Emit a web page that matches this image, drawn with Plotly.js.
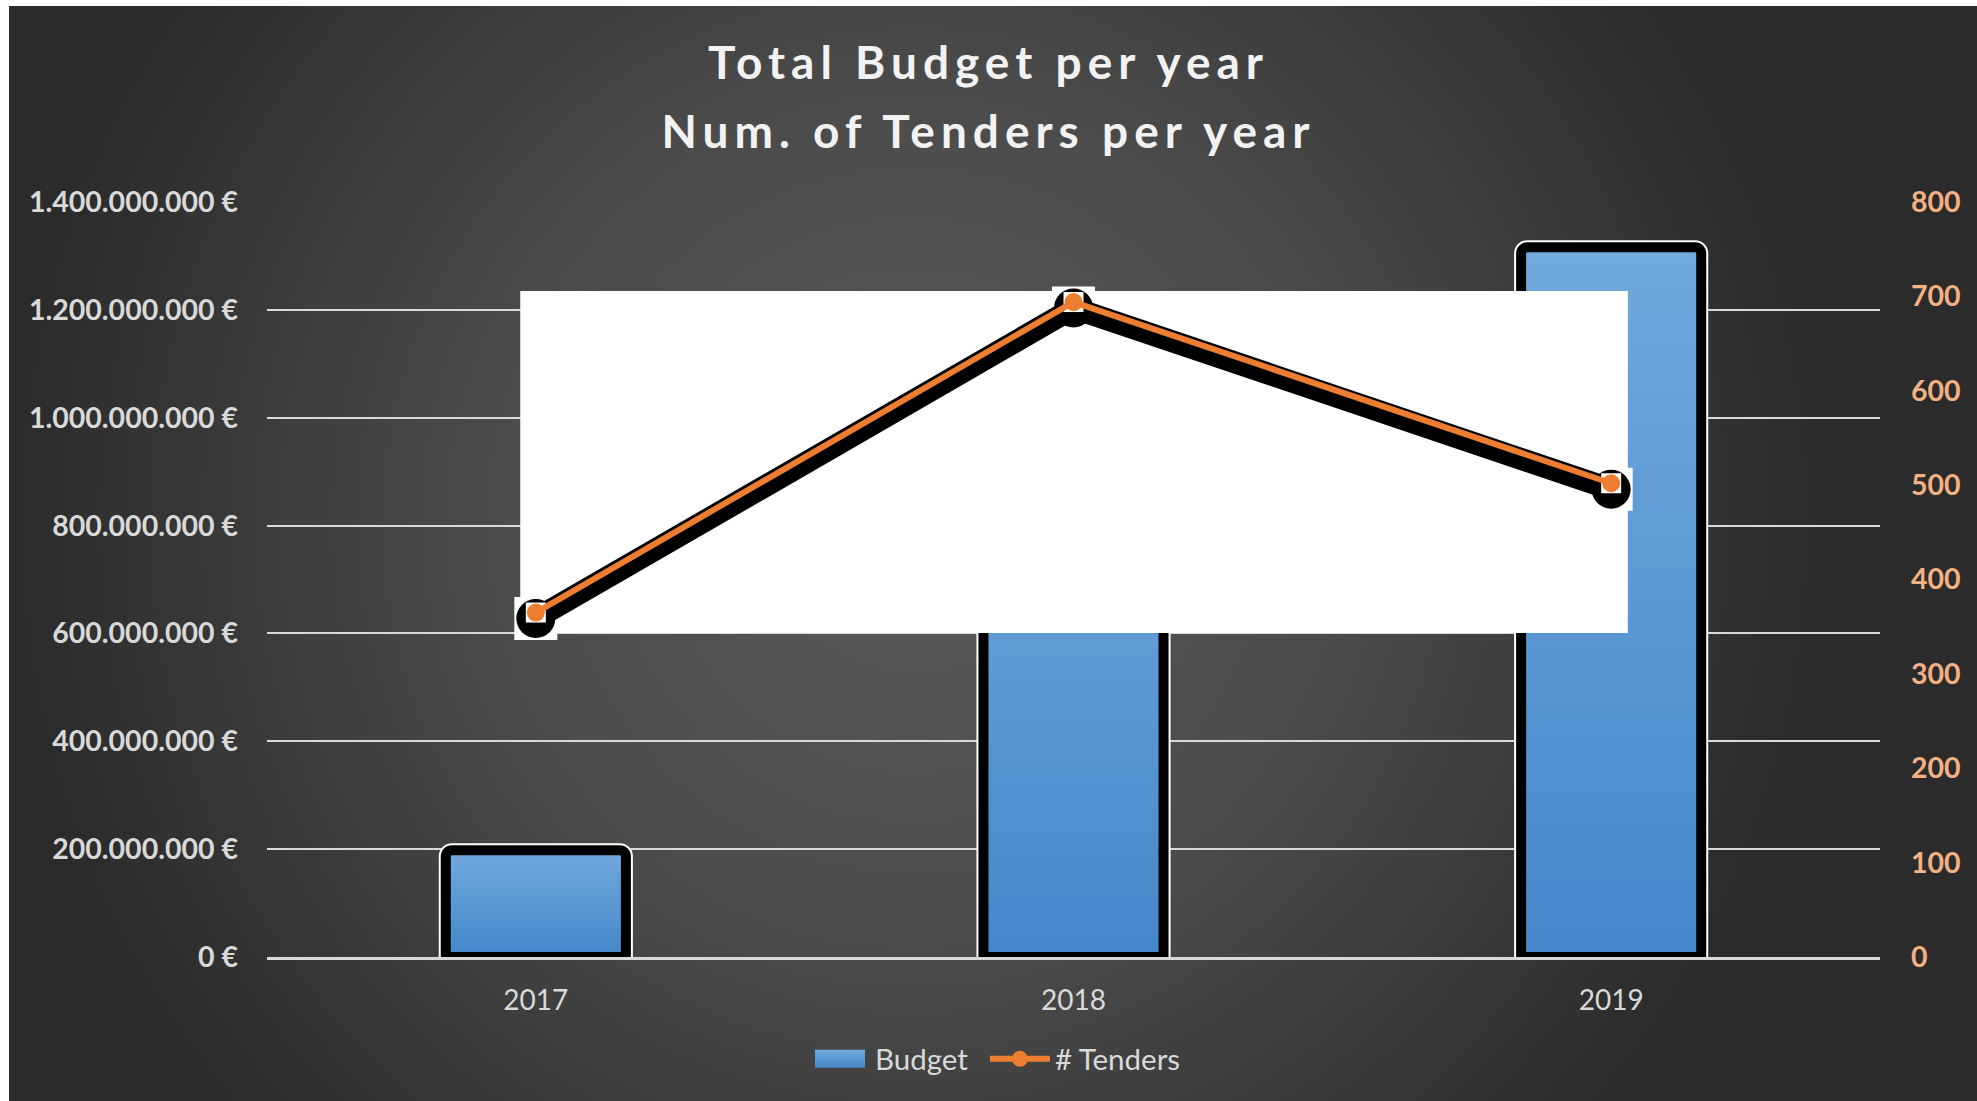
<!DOCTYPE html>
<html>
<head>
<meta charset="utf-8">
<script src="https://cdn.plot.ly/plotly-3.0.1.min.js"></script>
<style>
  html, body { margin:0; padding:0; background:#ffffff; }
  #bg { position:absolute; left:9px; top:6px; width:1968px; height:1095px;
        background: radial-gradient(circle at 46% 47%, #5a5a5a 0px, #4b4b4b 430px, #2b2b2b 900px); }
  #chart { position:absolute; left:0; top:0; width:1977px; height:1101px; }
  #chart .gtitle { letter-spacing: 6px; }
  #chart .barlayer .point path { fill: url(#barGrad) !important; }
  #chart .legend .traces .legendpoints path.legendbar,
  #chart .legend .traces .legendpoints path.legendundefined {
      stroke-width: 0 !important; fill: url(#barGrad) !important;
      d: path("M25,9H-25V-9H25Z"); }
</style>
</head>
<body>
<svg width="0" height="0" style="position:absolute">
  <defs>
    <linearGradient id="barGrad" x1="0" y1="0" x2="0" y2="1">
      <stop offset="0" stop-color="#72a9de"/>
      <stop offset="1" stop-color="#4487c9"/>
    </linearGradient>
  </defs>
</svg>
<div id="bg"></div>
<div id="chart"></div>
<script>
// ---- data ----
const years = [2017, 2018, 2019];
const yearLabels = ['2017', '2018', '2019'];
const budget = [198000000, 1000000000, 1316000000];
const tenders = [365, 694, 502];
const budgetTickStep = 200000000;
const tenderTickStep = 100;

// ---- decoration (white box pasted over the plot, in x-year / right-axis units) ----
const coverBoxX = [2016.971, 2019.031];
const coverBoxY = [343.3, 705.7];

const shadowShift = 6 * 800 / 755; // shadow drawn ~6px lower
const barW = 0.335;
const orange = '#ed7d31';

const traces = [
  { type:'bar', x:years, y:budget, width:barW, showlegend:false, hoverinfo:'skip',
    marker:{ color:'rgba(0,0,0,0)', cornerradius:6, line:{ color:'#ffffff', width:14 } } },
  { type:'bar', name:'Budget', x:years, y:budget, width:barW, legend:'legend',
    marker:{ color:'#5b9bd5', cornerradius:6, line:{ color:'#000000', width:10 } } },
  { type:'scatter', mode:'lines', yaxis:'y2', showlegend:false, hoverinfo:'skip',
    x:[coverBoxX[0], coverBoxX[1], coverBoxX[1], coverBoxX[0], coverBoxX[0]],
    y:[coverBoxY[0], coverBoxY[0], coverBoxY[1], coverBoxY[1], coverBoxY[0]],
    fill:'toself', fillcolor:'#ffffff', line:{ width:0, color:'#ffffff' } },
  { type:'scatter', mode:'markers', yaxis:'y3', x:years, y:tenders, showlegend:false, hoverinfo:'skip',
    marker:{ symbol:'square', size:43, color:'#ffffff', line:{ width:0 } } },
  { type:'scatter', mode:'lines+markers', yaxis:'y3', x:years, y:tenders, showlegend:false, hoverinfo:'skip',
    line:{ color:'#000000', width:22 }, marker:{ symbol:'circle', size:39, color:'#000000', line:{ width:0 } } },
  { type:'scatter', mode:'markers', yaxis:'y4', x:years, y:tenders, showlegend:false, hoverinfo:'skip',
    marker:{ symbol:'square', size:20, color:'#ffffff', line:{ width:0 } } },
  { type:'scatter', mode:'lines+markers', name:'# Tenders', yaxis:'y4', x:years, y:tenders, legend:'legend2',
    line:{ color:orange, width:6 }, marker:{ symbol:'circle', size:18, color:orange, line:{ width:0 } } }
];

const tickFont = { family:'Lato', size:28.5, color:'#d9d9d9', weight:700 };
const legendFont = { family:'Lato', size:29.5, color:'#d9d9d9' };

const layout = {
  width:1977, height:1101,
  margin:{ l:267, r:97, t:202, b:144, pad:0 },
  paper_bgcolor:'rgba(0,0,0,0)', plot_bgcolor:'rgba(0,0,0,0)',
  separators:',.',
  barmode:'overlay',
  hovermode:false,
  title:{ text:'<span style="font-size:46px">Total Budget per year</span><br><span style="font-size:46px">Num. of Tenders per year</span>',
          font:{ family:'Lato', size:53, color:'#f2f2f2', weight:700 },
          xref:'container', x:0.5, xanchor:'center',
          yref:'container', y:0.9282, yanchor:'top' },
  xaxis:{ type:'linear', range:[2016.5, 2019.5], tickvals:years, ticktext:yearLabels,
          showgrid:false, zeroline:false, showline:true, linecolor:'#d9d9d9', linewidth:3,
          layer:'above traces', ticks:'', ticklabelstandoff:16,
          tickfont:{ family:'Lato', size:28, color:'#d9d9d9' } },
  yaxis:{ range:[0, 1400000000], dtick:budgetTickStep, tick0:0, tickformat:',.0f', ticksuffix:' €',
          showgrid:true, gridcolor:'#d9d9d9', gridwidth:2, zeroline:false, showline:false,
          ticks:'', ticklabelstandoff:28, tickfont:tickFont },
  yaxis2:{ overlaying:'y', side:'right', range:[0, 800], dtick:tenderTickStep, tick0:0,
           showgrid:false, zeroline:false, showline:false, ticks:'', ticklabelstandoff:30,
           tickfont:{ family:'Lato', size:28.5, color:'#f4b183', weight:700 } },
  yaxis3:{ overlaying:'y', range:[shadowShift, 800 + shadowShift], visible:false },
  yaxis4:{ overlaying:'y', range:[0, 800], visible:false },
  legend:{ orientation:'h', xref:'container', yref:'container', x:0.4072, xanchor:'left',
           y:0.038, yanchor:'middle', itemwidth:60, bgcolor:'rgba(0,0,0,0)', font:legendFont },
  legend2:{ orientation:'h', xref:'container', yref:'container', x:0.4982, xanchor:'left',
           y:0.038, yanchor:'middle', itemwidth:60, bgcolor:'rgba(0,0,0,0)', font:legendFont }
};

Plotly.newPlot('chart', traces, layout, { displayModeBar:false, staticPlot:true });
</script>
</body>
</html>
